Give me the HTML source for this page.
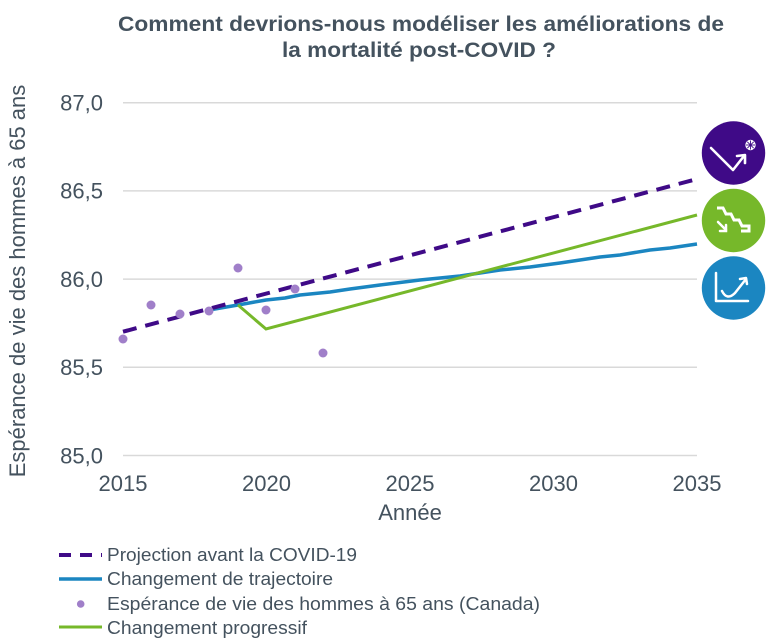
<!DOCTYPE html>
<html><head><meta charset="utf-8"><style>
html,body{margin:0;padding:0;background:#fff;}
svg{display:block;}
text{font-family:"Liberation Sans",Arial,sans-serif;}
</style></head><body>
<svg width="770" height="643" viewBox="0 0 770 643" xmlns="http://www.w3.org/2000/svg">
<!-- title -->
<text x="118" y="31" font-size="21" font-weight="bold" fill="#44525e" textLength="606" lengthAdjust="spacingAndGlyphs">Comment devrions-nous modéliser les améliorations de</text>
<text x="282" y="57" font-size="21" font-weight="bold" fill="#44525e" textLength="274" lengthAdjust="spacingAndGlyphs">la mortalité post-COVID ?</text>
<!-- gridlines -->
<g stroke="#d9d9d9" stroke-width="1.5">
<line x1="123" y1="102.7" x2="697" y2="102.7"/>
<line x1="123" y1="190.9" x2="697" y2="190.9"/>
<line x1="123" y1="279.1" x2="697" y2="279.1"/>
<line x1="123" y1="367.3" x2="697" y2="367.3"/>
<line x1="123" y1="455.5" x2="697" y2="455.5"/>
</g>
<!-- y ticks -->
<g font-size="22" fill="#44525e" text-anchor="end">
<text x="103" y="110.5">87,0</text>
<text x="103" y="198.7">86,5</text>
<text x="103" y="286.9">86,0</text>
<text x="103" y="375.1">85,5</text>
<text x="103" y="463.3">85,0</text>
</g>
<!-- x ticks -->
<g font-size="22" fill="#44525e" text-anchor="middle">
<text x="123" y="491">2015</text>
<text x="266.5" y="491">2020</text>
<text x="410" y="491">2025</text>
<text x="553.5" y="491">2030</text>
<text x="697" y="491">2035</text>
</g>
<text x="410" y="520" text-anchor="middle" font-size="22" fill="#44525e">Année</text>
<text transform="translate(25,281) rotate(-90)" text-anchor="middle" font-size="22" fill="#44525e">Espérance de vie des hommes à 65 ans</text>
<!-- series -->
<polyline points="209,310 238,305 266,300 285,298 300,295 330,292 350,289 380,285 420,280 460,276 500,270 530,267 560,263 600,257 620,255 650,250 670,248 697,244" fill="none" stroke="#1b86c1" stroke-width="3.5" stroke-linejoin="round"/>
<polyline points="238,305 266,329 697,215" fill="none" stroke="#76b82a" stroke-width="3"/>
<line x1="123" y1="331.7" x2="697" y2="179" stroke="#3f0a87" stroke-width="4" stroke-dasharray="14 9"/>
<g fill="#a07fc9">
<circle cx="123" cy="339" r="4.5"/>
<circle cx="151" cy="305" r="4.5"/>
<circle cx="180" cy="314" r="4.5"/>
<circle cx="209" cy="311" r="4.5"/>
<circle cx="238" cy="268" r="4.5"/>
<circle cx="266" cy="310" r="4.5"/>
<circle cx="295" cy="289" r="4.5"/>
<circle cx="323" cy="353" r="4.5"/>
</g>
<!-- icons -->
<circle cx="733.5" cy="153" r="31.7" fill="#3f0a87"/>
<g stroke="#fff" stroke-width="2.6" fill="none" stroke-linecap="round" stroke-linejoin="round">
<polyline points="711,148 733,170 744,156"/>
<polyline points="737,156 745,155 745,163"/>
</g>
<circle cx="750.5" cy="145" r="5.2" fill="#fff"/>
<g stroke="#3f0a87" stroke-width="0.9">
<line x1="746" y1="145" x2="755" y2="145"/><line x1="750.5" y1="140.5" x2="750.5" y2="149.5"/>
<line x1="747.3" y1="141.8" x2="753.7" y2="148.2"/><line x1="753.7" y1="141.8" x2="747.3" y2="148.2"/>
</g>
<circle cx="733.5" cy="220.5" r="31.7" fill="#76b82a"/>
<polyline points="717,208 723,208 726,214 731,214 734,220 739,220 742,226 749,226 749,231 741,231" fill="none" stroke="#fff" stroke-width="3" stroke-linejoin="miter"/>
<g stroke="#fff" stroke-width="2.5" fill="none" stroke-linecap="round">
<line x1="718" y1="222" x2="726" y2="230"/>
<polyline points="720,231 726,231 726,225"/>
</g>
<circle cx="733.5" cy="288" r="31.7" fill="#1b86c1"/>
<g stroke="#fff" stroke-width="2.5" fill="none" stroke-linecap="round" stroke-linejoin="round">
<polyline points="716,273 716,301 748,301"/>
<path d="M722,291 Q727,301 735,293 L746,279"/>
<polyline points="740,279 746,278 747,284"/>
</g>
<!-- legend -->
<line x1="59" y1="555" x2="102" y2="555" stroke="#3f0a87" stroke-width="4" stroke-dasharray="12 9"/>
<line x1="59" y1="579" x2="102" y2="579" stroke="#1b86c1" stroke-width="3.5"/>
<circle cx="80.7" cy="604" r="3.8" fill="#a07fc9"/>
<line x1="59" y1="627" x2="102" y2="627" stroke="#76b82a" stroke-width="3"/>
<g font-size="18" fill="#44525e" lengthAdjust="spacingAndGlyphs">
<text x="107" y="561" textLength="250" lengthAdjust="spacingAndGlyphs">Projection avant la COVID-19</text>
<text x="107" y="585" textLength="226" lengthAdjust="spacingAndGlyphs">Changement de trajectoire</text>
<text x="107" y="610" textLength="433" lengthAdjust="spacingAndGlyphs">Espérance de vie des hommes à 65 ans (Canada)</text>
<text x="107" y="634" textLength="200" lengthAdjust="spacingAndGlyphs">Changement progressif</text>
</g>
</svg>
</body></html>
